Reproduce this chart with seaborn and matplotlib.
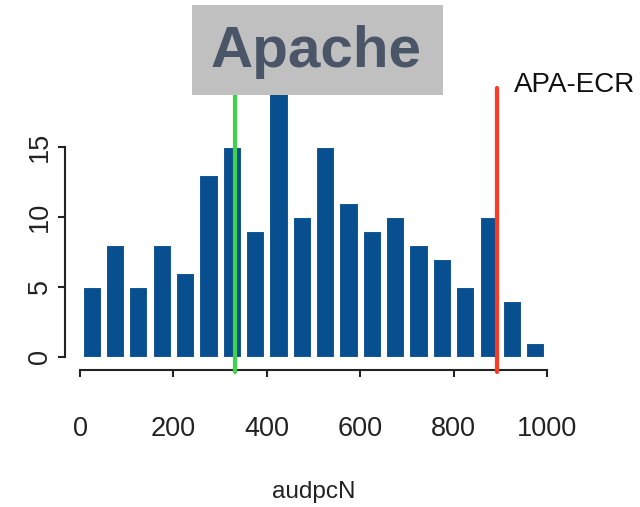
import numpy as np
import pandas as pd
import matplotlib
matplotlib.use("Agg")
import matplotlib.pyplot as plt
from matplotlib.patches import Rectangle
import seaborn as sns

# Histogram of audpcN (bin width 50)
bin_starts = [0, 50, 100, 150, 200, 250, 300, 350, 400, 450,
              500, 550, 600, 650, 700, 750, 800, 850, 900, 950]
counts = [5, 8, 5, 8, 6, 13, 15, 9, 19, 10,
          15, 11, 9, 10, 8, 7, 5, 10, 4, 1]
bin_width = 50

# Reference lines
green_x = 332
red_x = 893
red_label = "APA-ECR"
title = "Apache"
x_label = "audpcN"
x_ticks = [0, 200, 400, 600, 800, 1000]
y_ticks = [0, 5, 10, 15]

df = pd.DataFrame({"start": bin_starts, "count": counts})
df["mid"] = df["start"] + bin_width / 2
edges = list(bin_starts) + [bin_starts[-1] + bin_width]

sns.set_style("white")
plt.rcParams["font.family"] = ["Liberation Sans", "DejaVu Sans"]

fig = plt.figure(figsize=(6.4, 5.07), dpi=100)
ax = fig.add_axes([80 / 640, (507 - 357) / 507, 467 / 640, 273 / 507])

sns.histplot(data=df, x="mid", weights="count", bins=edges, shrink=0.78,
             color="#084f8f", alpha=1, edgecolor="white", linewidth=0.8,
             ax=ax)

ax.set_xlim(0, 1000)
ax.set_ylim(0, 19.5)

# R-style detached axes
for side in ["top", "right"]:
    ax.spines[side].set_visible(False)
ax.spines["left"].set_position(("outward", 10.5))
ax.spines["bottom"].set_position(("outward", 9.5))
ax.spines["left"].set_bounds(0, 15)
ax.spines["bottom"].set_bounds(0, 1000)
for side in ["left", "bottom"]:
    ax.spines[side].set_color("#222222")
    ax.spines[side].set_linewidth(1.5)

ax.set_xticks(x_ticks)
ax.set_yticks(y_ticks)
ax.set_xticklabels([str(t) for t in x_ticks])
ax.set_yticklabels([str(t) for t in y_ticks], rotation=90, va="center")
ax.tick_params(axis="both", direction="out", length=5, width=1.5,
               color="#222222", labelsize=19.5, labelcolor="#222222",
               left=True, bottom=True)
ax.tick_params(axis="x", pad=28)
ax.tick_params(axis="y", pad=4)
ax.set_xlabel(x_label, fontsize=17.5, color="#222222", labelpad=28)
ax.set_ylabel("")

# Vertical markers
ax.plot([green_x, green_x], [-1.1, 19.2], color="#3fd34a", lw=3,
        clip_on=False, zorder=3)
ax.plot([red_x, red_x], [-1.1, 19.2], color="#ff3a22", lw=3,
        clip_on=False, zorder=3)
ax.text(red_x + 36, 19.4, red_label, fontsize=20, color="#111111",
        ha="left", va="center", clip_on=False)

# Title box
fig.patches.append(Rectangle((192 / 640, 1 - 95 / 507), 251 / 640, 90 / 507,
                             transform=fig.transFigure, facecolor="#c0c0c0",
                             edgecolor="none", zorder=5))
fig.text(316 / 640, 1 - 52 / 507, title, fontsize=42, fontweight="bold",
         color="#4a5568", ha="center", va="center", zorder=6)

fig.savefig("out.png", dpi=100)
